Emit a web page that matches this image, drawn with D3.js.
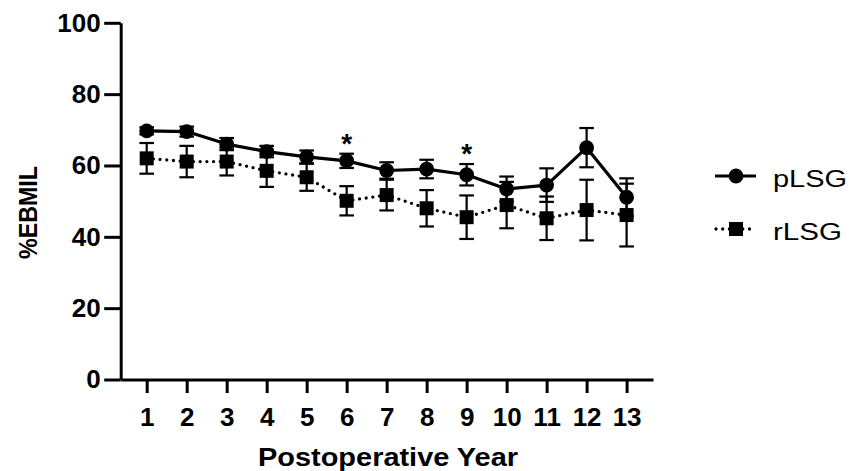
<!DOCTYPE html>
<html>
<head>
<meta charset="utf-8">
<script src="https://cdn.jsdelivr.net/npm/d3@7"></script>
<style>
  html, body { margin: 0; padding: 0; background: #ffffff; }
  svg { display: block; }
  text { font-family: "Liberation Sans", Arial, Helvetica, sans-serif; fill: #000; }
</style>
</head>
<body>
<svg id="chart" width="862" height="471"></svg>
<script>
// ---- data ----
const years = [1, 2, 3, 4, 5, 6, 7, 8, 9, 10, 11, 12, 13];
const pLSGMean = [69.7, 69.5, 66.0, 63.9, 62.4, 61.3, 58.6, 59.0, 57.4, 53.4, 54.5, 65.0, 51.1];
const pLSGErr  = [1.0, 1.4, 1.7, 1.6, 1.8, 2.0, 2.3, 2.6, 3.0, 3.5, 4.7, 5.5, 5.3];
const rLSGMean = [62.0, 61.1, 61.1, 58.5, 56.7, 50.1, 51.7, 48.0, 45.5, 48.9, 45.2, 47.5, 46.1];
const rLSGErr  = [4.3, 4.4, 3.9, 4.5, 3.8, 4.1, 4.3, 5.1, 6.1, 6.5, 6.1, 8.5, 8.8];
const sigYears = [6, 9];
const yTicks = [0, 20, 40, 60, 80, 100];
const seriesNames = ["pLSG", "rLSG"];
const xTitle = "Postoperative Year";
const yTitle = "%EBMIL";

// ---- layout ----
const svg = d3.select("#chart");
const x = d3.scaleLinear().domain([0.35, 13.66]).range([120.7, 653]);
const y = d3.scaleLinear().domain([0, 100]).range([379.5, 22.8]);

const font = '"Liberation Sans", Arial, Helvetica, sans-serif';

// axes
const xAxis = d3.axisBottom(x).tickValues(years).tickFormat(d3.format("d"))
  .tickSize(13.5).tickSizeOuter(0).tickPadding(14.5);
const gx = svg.append("g").attr("transform", `translate(0,${y(0)})`).call(xAxis);
gx.select(".domain").attr("stroke", "#000").attr("stroke-width", 3);
gx.selectAll(".tick line").attr("stroke", "#000").attr("stroke-width", 3);
gx.selectAll(".tick text").attr("font-family", font).attr("font-size", 26)
  .attr("font-weight", "bold").attr("fill", "#000");

const yAxis = d3.axisLeft(y).tickValues(yTicks).tickFormat(d3.format("d"))
  .tickSize(16.5).tickSizeOuter(0).tickPadding(3.5);
const gy = svg.append("g").attr("transform", `translate(${x.range()[0]},0)`).call(yAxis);
gy.select(".domain").attr("stroke", "#000").attr("stroke-width", 3);
gy.selectAll(".tick line").attr("stroke", "#000").attr("stroke-width", 3);
gy.selectAll(".tick text").attr("font-family", font).attr("font-size", 26)
  .attr("font-weight", "bold").attr("fill", "#000");

// titles
svg.append("text").attr("x", 388).attr("y", 466).attr("text-anchor", "middle")
  .attr("font-size", 26).attr("font-weight", "bold")
  .attr("textLength", 260).attr("lengthAdjust", "spacingAndGlyphs").text(xTitle);
svg.append("text").attr("transform", "translate(37,212.5) rotate(-90)")
  .attr("text-anchor", "middle").attr("font-size", 26).attr("font-weight", "bold")
  .attr("textLength", 93).attr("lengthAdjust", "spacingAndGlyphs").text(yTitle);

// series
const pData = years.map((yr, i) => ({ yr, m: pLSGMean[i], e: pLSGErr[i] }));
const rData = years.map((yr, i) => ({ yr, m: rLSGMean[i], e: rLSGErr[i] }));

const line = d3.line().x(d => x(d.yr)).y(d => y(d.m));

function errorBars(data) {
  const g = svg.append("g").attr("stroke", "#000").attr("stroke-width", 2.2).attr("fill", "none");
  data.forEach(d => {
    const lo = y(d.m - d.e), hi = y(d.m + d.e), cx = x(d.yr);
    g.append("line").attr("x1", cx).attr("x2", cx).attr("y1", lo).attr("y2", hi);
    g.append("line").attr("x1", cx - 7.3).attr("x2", cx + 7.3).attr("y1", lo).attr("y2", lo);
    g.append("line").attr("x1", cx - 7.3).attr("x2", cx + 7.3).attr("y1", hi).attr("y2", hi);
  });
}

// rLSG (dotted, squares)
svg.append("path").datum(rData).attr("d", line).attr("fill", "none")
  .attr("stroke", "#000").attr("stroke-width", 3.3).attr("stroke-linecap", "round")
  .attr("stroke-dasharray", "0 6.7");
errorBars(rData);
svg.append("g").selectAll("rect").data(rData).join("rect")
  .attr("x", d => x(d.yr) - 7).attr("y", d => y(d.m) - 7)
  .attr("width", 14).attr("height", 14).attr("fill", "#000");

// pLSG (solid, circles)
svg.append("path").datum(pData).attr("d", line).attr("fill", "none")
  .attr("stroke", "#000").attr("stroke-width", 3.2).attr("stroke-linejoin", "round");
errorBars(pData);
svg.append("g").selectAll("circle").data(pData).join("circle")
  .attr("cx", d => x(d.yr)).attr("cy", d => y(d.m)).attr("r", 7.4).attr("fill", "#000");

// significance asterisks
svg.append("g").selectAll("text").data(sigYears).join("text")
  .attr("x", d => x(d)).attr("y", d => {
    const p = pData.find(e => e.yr === d);
    return y(p.m + p.e) - 1;
  })
  .attr("text-anchor", "middle").attr("font-size", 28).attr("font-weight", "bold").text("*");

// legend
const lg = svg.append("g");
const legY = [176, 229];
const legW = [74, 69];
lg.append("line").attr("x1", 715).attr("x2", 756).attr("y1", legY[0]).attr("y2", legY[0])
  .attr("stroke", "#000").attr("stroke-width", 3.2);
lg.append("circle").attr("cx", 736).attr("cy", legY[0]).attr("r", 7.4).attr("fill", "#000");
lg.append("line").attr("x1", 716).attr("x2", 756).attr("y1", legY[1]).attr("y2", legY[1])
  .attr("stroke", "#000").attr("stroke-width", 3.3).attr("stroke-linecap", "round")
  .attr("stroke-dasharray", "0 6.7");
lg.append("rect").attr("x", 729).attr("y", legY[1] - 7).attr("width", 14).attr("height", 14).attr("fill", "#000");
lg.selectAll("text.leg").data(seriesNames).join("text").attr("class", "leg")
  .attr("x", 773).attr("y", (d, i) => legY[i] + 10.5)
  .attr("font-size", 23).attr("textLength", (d, i) => legW[i])
  .attr("lengthAdjust", "spacingAndGlyphs").text(d => d);
</script>
</body>
</html>
